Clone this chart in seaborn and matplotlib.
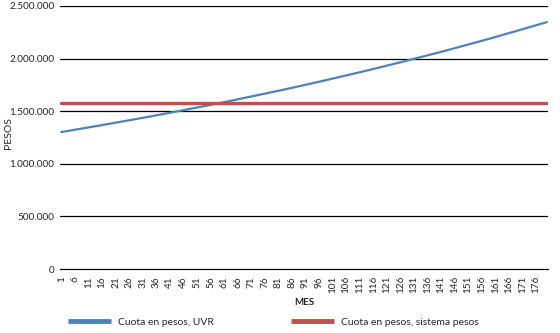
import matplotlib.pyplot as plt
import matplotlib.ticker as mticker
import numpy as np
import pandas as pd
import seaborn as sns

months = [1, 6, 11, 16, 21, 26, 31, 36, 41, 46, 51, 56, 61, 66, 71, 76, 81, 86,
          91, 96, 101, 106, 111, 116, 121, 126, 131, 136, 141, 146, 151, 156,
          161, 166, 171, 176, 180]
cuota_uvr = [1302000, 1324000, 1346000, 1368000, 1391000, 1414000, 1437000,
             1461000, 1485000, 1510000, 1535000, 1560000, 1586000, 1613000,
             1640000, 1667000, 1694000, 1722000, 1751000, 1780000, 1810000,
             1840000, 1870000, 1901000, 1933000, 1965000, 1998000, 2031000,
             2064000, 2099000, 2134000, 2169000, 2205000, 2242000, 2279000,
             2317000, 2347000]
cuota_pesos = [1577000, 1577000, 1577000, 1577000, 1577000, 1577000, 1577000,
               1577000, 1577000, 1577000, 1577000, 1577000, 1577000, 1577000,
               1577000, 1577000, 1577000, 1577000, 1577000, 1577000, 1577000,
               1577000, 1577000, 1577000, 1577000, 1577000, 1577000, 1577000,
               1577000, 1577000, 1577000, 1577000, 1577000, 1577000, 1577000,
               1577000, 1577000]
n_months = 180
tick_months = list(range(1, n_months, 5))
y_ticks = [0, 500000, 1000000, 1500000, 2000000, 2500000]
series = ['Cuota en pesos, UVR', 'Cuota en pesos, sistema pesos']
colors = ['#4F81BD', '#C0504D']

sns.set_style('white')
plt.rcParams['font.family'] = ['Lato', 'DejaVu Sans']

df = pd.DataFrame({
    'MES': months * 2,
    'PESOS': cuota_uvr + cuota_pesos,
    'serie': [series[0]] * len(months) + [series[1]] * len(months),
})

fig = plt.figure(figsize=(5.6, 3.33), dpi=100)
ax = fig.add_axes([0.107, 0.192, 0.872, 0.790])

sns.lineplot(data=df, x='MES', y='PESOS', hue='serie', size='serie',
             sizes={series[0]: 1.6, series[1]: 2.4},
             palette=dict(zip(series, colors)),
             ax=ax, legend=False)

ax.set_xlim(0.5, n_months + 0.5)
ax.set_ylim(0, 2500000)
ax.set_yticks(y_ticks)
ax.yaxis.set_major_formatter(mticker.FuncFormatter(lambda v, p: f'{int(v):,}'.replace(',', '.')))
for v in y_ticks[1:]:
    ax.axhline(v, color='black', lw=0.9, zorder=0)

ax.set_xticks(tick_months)
ax.set_xticklabels([str(m) for m in tick_months], rotation=90)
ax.set_xticks(np.arange(0.5, n_months + 1, 1), minor=True)
ax.tick_params(axis='x', which='major', length=0, pad=5, labelsize=7.2)
ax.tick_params(axis='x', which='minor', length=3, width=0.6, direction='out', color='black')
ax.tick_params(axis='y', length=0, labelsize=7.2, pad=4)

for s in ['top', 'right', 'left']:
    ax.spines[s].set_visible(False)
ax.spines['bottom'].set_color('black')
ax.spines['bottom'].set_linewidth(0.9)

ax.set_xlabel('MES', fontsize=7, fontweight='bold', labelpad=3)
ax.set_ylabel('')
fig.text(8 / 560, 0.6, 'PESOS', rotation=90, fontsize=7.5, ha='center', va='center')

handles = [plt.Line2D([], [], color=c, lw=3.5, solid_capstyle='butt') for c in colors]
fig.legend(handles, series, loc='center', bbox_to_anchor=(0.489, 0.033), ncol=2,
           frameon=False, fontsize=7.5, handlelength=4.1, columnspacing=7.4,
           handletextpad=0.7)

fig.savefig('out.png', dpi=100)
